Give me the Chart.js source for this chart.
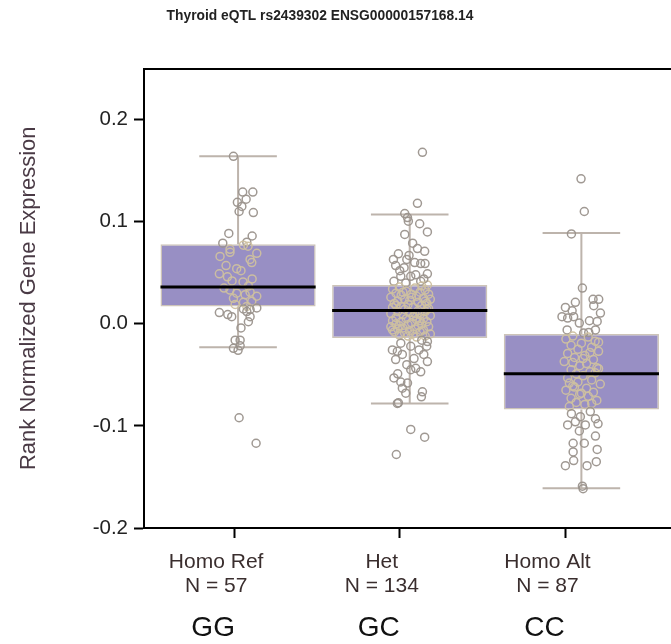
<!DOCTYPE html>
<html>
<head>
<meta charset="utf-8">
<script src="https://cdn.jsdelivr.net/npm/chart.js@4.4.0/dist/chart.umd.min.js"></script>
<style>
  html, body { margin: 0; background: #fff; overflow: hidden; }
  canvas { display: block; }
</style>
</head>
<body>
<!-- a few px wider than the window: Chart.js keeps ~6px free on the right, this lets the frame run to the edge -->
<canvas id="eqtlChart" width="677" height="644"></canvas>
<script>
const groups = ["Homo Ref", "Het", "Homo Alt"];
const counts = [57, 134, 87];
const genotypes = ["GG", "GC", "CC"];
const yTicks = [-0.2, -0.1, 0.0, 0.1, 0.2];

// box stats
const q1 = [0.017, -0.014, -0.084];
const q3 = [0.078, 0.038, -0.010];
const medians = [0.036, 0.013, -0.049];
const whiskerLow = [-0.023, -0.078, -0.161];
const whiskerHigh = [0.164, 0.107, 0.089];

// [value, horizontal jitter] for every sample
const refPoints = [
  [0.164,-0.027],[0.129,0.027],[0.129,0.086],[0.122,0.047],[0.119,-0.004],[0.115,0.022],[0.110,0.006],[0.109,0.089],
  [0.0885,-0.054],[0.086,0.082],[0.080,0.051],[0.079,-0.089],[0.077,0.031],[0.073,-0.047],[0.076,0.058],[0.069,0.109],
  [0.066,-0.105],[0.070,-0.047],[0.063,0.070],[0.060,0.080],[0.054,-0.008],[0.049,-0.109],[0.046,-0.062],[0.042,-0.035],
  [0.041,0.029],[0.037,0.060],[0.033,-0.047],[0.030,-0.008],[0.0285,0.041],[0.027,0.109],[0.025,-0.027],[0.022,0.080],
  [0.021,0.031],[0.017,0.051],[0.0155,0.109],[0.014,0.070],[0.011,-0.109],[0.009,-0.060],[0.007,-0.037],[0.0145,0.031],
  [0.012,0.051],[0.002,0.060],[0.007,0.070],[-0.016,-0.017],[-0.016,0.012],[-0.024,-0.027],[-0.0216,0.012],[-0.092,0.006],
  [-0.117,0.105],[0.057,-0.070],[0.052,0.017],[0.044,0.082],[0.035,-0.082],[0.031,0.070],[0.019,-0.017],[-0.004,0.017],
  [-0.026,0.0]
];
const hetPoints = [
  [0.168,0.074],[0.118,0.045],[0.108,-0.029],[0.104,-0.013],[0.1005,-0.008],[0.098,0.058],[0.090,0.103],[0.0875,-0.029],
  [0.0737,0.045],[0.071,0.087],[0.0685,-0.066],[0.067,-0.004],[0.063,-0.095],[0.063,-0.017],[0.059,0.064],[0.059,0.089],
  [0.057,-0.082],[0.055,-0.033],[0.048,0.035],[0.049,0.103],[0.0465,-0.052],[0.0465,0.006],[0.0416,-0.092],[0.0416,0.064],
  [0.038,0.103],[0.052,-0.058],[0.044,0.082],[0.079,0.017],[0.060,0.029],[0.040,-0.023],
  [0.036,-0.06],[0.035,0.03],[0.034,-0.10],[0.033,0.09],[0.032,-0.02],[0.031,0.06],[0.030,-0.08],[0.029,0.11],[0.029,0.01],[0.028,-0.05],
  [0.027,0.04],[0.026,-0.11],[0.025,0.08],[0.024,-0.03],[0.024,0.12],[0.023,0.00],[0.022,-0.07],[0.021,0.05],[0.020,-0.09],[0.020,0.10],
  [0.019,-0.01],[0.018,0.07],[0.017,-0.05],[0.016,0.02],[0.016,-0.10],[0.015,0.11],[0.014,-0.03],[0.013,0.05],[0.012,-0.07],[0.012,0.09],
  [0.011,0.00],[0.010,-0.11],[0.009,0.06],[0.009,-0.04],[0.008,0.12],[0.007,0.02],[0.006,-0.08],[0.005,0.08],[0.005,-0.02],[0.004,0.04],
  [0.003,-0.10],[0.002,0.10],[0.002,-0.05],[0.001,0.01],[0.000,0.07],[0.000,-0.08],[-0.001,-0.01],[-0.002,0.05],[-0.003,-0.11],[-0.003,0.11],
  [-0.004,-0.04],[-0.005,0.03],[-0.005,-0.07],[-0.006,0.08],[-0.007,0.00],[-0.008,-0.09],[-0.008,0.06],[-0.009,-0.03],[-0.010,0.12],[-0.010,0.02],
  [-0.011,-0.06],[-0.012,0.09],[-0.012,-0.01],[-0.013,0.04],[0.037,0.07],[0.026,0.01],[0.018,-0.08],[0.010,0.03],[0.003,0.06],[-0.006,-0.10],
  [0.031,-0.04],[0.014,0.10],[-0.002,-0.06],[0.022,0.09],
  [-0.019,-0.052],[-0.0174,0.103],[-0.0256,-0.101],[-0.027,-0.072],[-0.0256,0.054],[-0.022,0.099],[-0.022,0.006],[-0.035,-0.082],
  [-0.030,-0.043],[-0.037,0.103],[-0.034,0.025],[-0.040,-0.017],[-0.0436,0.035],[-0.047,0.064],[-0.045,0.006],[-0.053,-0.092],
  [-0.057,-0.052],[-0.058,-0.013],[-0.063,-0.043],[-0.0666,0.074],[-0.0715,0.068],[-0.0774,-0.066],[-0.078,-0.072],[-0.1035,0.006],
  [-0.111,0.087],[-0.128,-0.078],[-0.016,0.070],[-0.030,0.082],[-0.049,-0.070],[-0.068,-0.023]
];
const altPoints = [
  [0.142,-0.002],[0.110,0.017],[0.088,-0.058],[0.035,0.006],[0.021,-0.035],[0.024,0.068],[0.024,0.101],[0.0177,0.072],
  [0.0128,-0.054],[0.0105,0.111],[0.007,-0.113],[0.0056,-0.080],[0.007,-0.045],[0.0007,-0.012],[0.0023,0.092],[-0.006,-0.083],
  [-0.0085,0.043],[-0.006,0.082],[-0.009,0.013],[0.016,-0.093],[0.003,0.047],
  [-0.012,-0.05],[-0.013,0.04],[-0.015,-0.09],[-0.017,0.08],[-0.019,0.00],[-0.021,-0.06],[-0.023,0.06],[-0.025,-0.02],[-0.027,0.10],[-0.029,-0.08],
  [-0.031,0.02],[-0.033,-0.04],[-0.035,0.07],[-0.037,-0.10],[-0.039,0.03],[-0.041,-0.01],[-0.043,0.09],[-0.045,-0.06],[-0.047,0.05],[-0.049,-0.03],
  [-0.051,0.01],[-0.053,-0.08],[-0.055,0.06],[-0.057,-0.02],[-0.059,0.11],[-0.061,-0.05],[-0.063,0.03],[-0.065,-0.09],[-0.067,0.07],[-0.069,-0.01],
  [-0.071,0.04],[-0.073,-0.06],[-0.075,0.09],[-0.077,-0.03],[-0.079,0.02],[-0.081,-0.07],[-0.018,0.10],[-0.028,0.05],[-0.038,-0.05],[-0.048,0.08],
  [-0.058,-0.07],[-0.068,0.00],[-0.078,0.06],[-0.034,0.01],[-0.062,-0.04],[-0.044,0.10],
  [-0.099,-0.080],[-0.096,-0.035],[-0.099,0.023],[-0.098,0.097],[-0.091,-0.006],[-0.086,0.052],[-0.110,0.082],[-0.117,-0.048],
  [-0.117,0.017],[-0.123,0.092],[-0.1255,-0.048],[-0.134,-0.045],[-0.139,-0.093],[-0.139,0.033],[-0.135,0.087],[-0.159,0.006],
  [-0.1615,0.010],[-0.088,-0.058],[-0.093,0.082],[-0.105,-0.012]
];

const FONT = "'Liberation Sans', Arial, sans-serif";
const allPoints = [refPoints, hetPoints, altPoints]
  .flatMap((pts, g) => pts.map(([v, j]) => ({x: g + 1 + j, y: v})));

const boxExtras = {
  id: "boxExtras",
  beforeDatasetsDraw(chart) {
    const ctx = chart.ctx, y = chart.scales.y;
    const bars = chart.getDatasetMeta(0).data;
    ctx.save();
    ctx.strokeStyle = "#bdb4ac";
    ctx.lineWidth = 2;
    bars.forEach((bar, i) => {
      const cap = bar.width / 4;
      const yHi = y.getPixelForValue(whiskerHigh[i]);
      const yLo = y.getPixelForValue(whiskerLow[i]);
      ctx.beginPath();
      ctx.moveTo(bar.x, y.getPixelForValue(q3[i]));
      ctx.lineTo(bar.x, yHi);
      ctx.moveTo(bar.x, y.getPixelForValue(q1[i]));
      ctx.lineTo(bar.x, yLo);
      ctx.moveTo(bar.x - cap, yHi);
      ctx.lineTo(bar.x + cap, yHi);
      ctx.moveTo(bar.x - cap, yLo);
      ctx.lineTo(bar.x + cap, yLo);
      ctx.stroke();
    });
    ctx.restore();
  },
  afterDatasetsDraw(chart) {
    const ctx = chart.ctx, y = chart.scales.y;
    const bars = chart.getDatasetMeta(0).data;
    ctx.save();
    ctx.strokeStyle = "#000";
    ctx.lineWidth = 3;
    bars.forEach((bar, i) => {
      const ym = y.getPixelForValue(medians[i]);
      ctx.beginPath();
      ctx.moveTo(bar.x - bar.width / 2, ym);
      ctx.lineTo(bar.x + bar.width / 2, ym);
      ctx.stroke();
    });
    ctx.restore();
  }
};

function threeTicks(scale) {
  scale.ticks = [1, 2, 3].map(v => ({value: v}));
}

function fitBottom(h) {
  return (s) => { s.height = h; s.paddingLeft = 0; s.paddingRight = 0; };
}

new Chart(document.getElementById("eqtlChart"), {
  type: "bar",
  data: {
    datasets: [{
      type: "bar",
      data: groups.map((g, i) => ({x: i + 1, y: [q1[i], q3[i]]})),
      backgroundColor: "#988fc4",
      borderColor: "#cdc4b8",
      borderWidth: 1.5,
      borderSkipped: false,
      barPercentage: 0.904,
      categoryPercentage: 1,
      order: 2
    }, {
      type: "scatter",
      data: allPoints,
      pointRadius: 4,
      pointBorderWidth: 1.5,
      pointBackgroundColor: "rgba(0,0,0,0)",
      pointBorderColor: (c) => {
        const p = c.raw;
        if (!p) return "#a39b94";
        const g = Math.round(p.x) - 1;
        return (p.y >= q1[g] && p.y <= q3[g]) ? "rgba(205,192,160,0.95)" : "rgba(155,147,141,0.95)";
      },
      order: 1
    }]
  },
  options: {
    responsive: false,
    animation: false,
    events: [],
    layout: {padding: {left: -37, right: 0, top: 0, bottom: 0}},
    plugins: {
      legend: {display: false},
      tooltip: {enabled: false},
      title: {
        display: true,
        text: "Thyroid eQTL rs2439302 ENSG00000157168.14",
        color: "#222",
        font: {family: FONT, size: 13.8, weight: "bold"},
        padding: {top: 8, bottom: 44}
      }
    },
    scales: {
      x: {
        type: "linear",
        display: false,
        offset: false,
        grid: {offset: false},
        min: 0.452,
        max: 3.525,
        afterBuildTicks: threeTicks
      },
      xt: {
        type: "linear",
        position: "bottom",
        weight: 0,
        offset: false,
        min: 0.456,
        max: 3.64,
        afterBuildTicks: threeTicks,
        afterFit: fitBottom(70),
        grid: {offset: false, drawOnChartArea: false, tickLength: 10, tickWidth: 2, tickColor: "#000"},
        border: {display: true, color: "#000", width: 2},
        ticks: {
          padding: 12,
          labelOffset: -18,
          color: "#3a2e2e",
          font: {family: FONT, size: 21, lineHeight: 1.15},
          callback: (v) => [groups[v - 1], "N = " + counts[v - 1]]
        }
      },
      xg: {
        type: "linear",
        position: "bottom",
        weight: 1,
        offset: false,
        min: 0.456,
        max: 3.64,
        afterBuildTicks: threeTicks,
        afterFit: fitBottom(46),
        grid: {offset: false, display: false, drawTicks: false},
        border: {display: false},
        ticks: {
          padding: 13,
          labelOffset: -21,
          color: "#111",
          font: {family: FONT, size: 28},
          callback: (v) => genotypes[v - 1]
        }
      },
      xtop: {
        type: "linear",
        position: "top",
        offset: false,
        min: 0,
        max: 1,
        afterFit: fitBottom(0),
        grid: {offset: false, display: false, drawTicks: false},
        border: {display: true, color: "#000", width: 2},
        ticks: {display: false}
      },
      y: {
        type: "linear",
        min: -0.2,
        max: 0.25,
        afterBuildTicks: (s) => { s.ticks = yTicks.map(v => ({value: v})); },
        afterFit: (s) => { s.width = 181; },
        grid: {drawOnChartArea: false, tickLength: 10, tickWidth: 2, tickColor: "#000"},
        border: {display: true, color: "#000", width: 2},
        ticks: {
          padding: 6,
          color: "#222",
          font: {family: FONT, size: 20.5},
          callback: (v) => v.toFixed(1)
        },
        title: {
          display: true,
          text: "Rank Normalized Gene Expression",
          color: "#4a3a45",
          font: {family: FONT, size: 22},
          padding: {top: 53, bottom: 0}
        }
      }
    }
  },
  plugins: [boxExtras]
});
</script>
</body>
</html>
